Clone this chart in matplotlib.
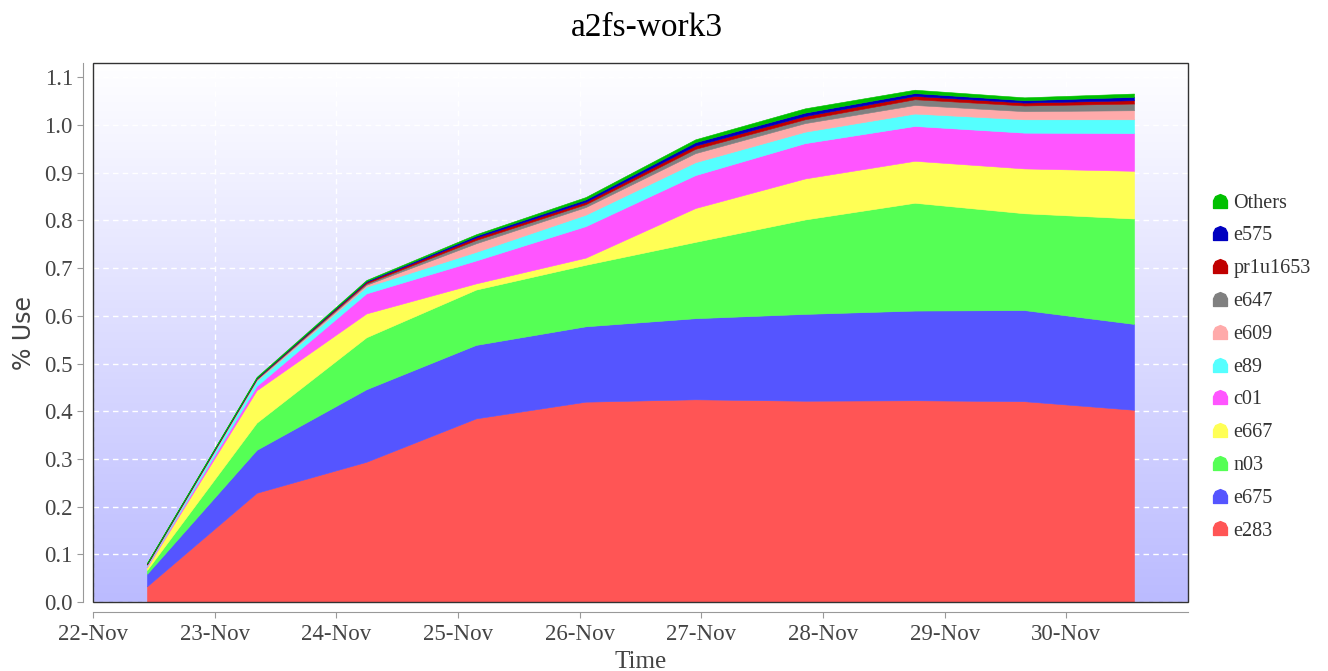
import numpy as np
import pandas as pd
import matplotlib
matplotlib.use("Agg")
import matplotlib.pyplot as plt
import matplotlib.dates as mdates
from matplotlib.path import Path

times = pd.to_datetime([
    "2012-11-22 10:39", "2012-11-23 08:17", "2012-11-24 05:55", "2012-11-25 03:33",
    "2012-11-26 01:11", "2012-11-26 22:49", "2012-11-27 20:27", "2012-11-28 18:05",
    "2012-11-29 15:43", "2012-11-30 13:21",
])

names = ["e283", "e675", "n03", "e667", "c01", "e89", "e609", "e647", "pr1u1653", "e575", "Others"]

e283 = [0.033, 0.229, 0.294, 0.385, 0.420, 0.425, 0.422, 0.423, 0.421, 0.403]
e675 = [0.026, 0.090, 0.152, 0.154, 0.158, 0.170, 0.182, 0.188, 0.191, 0.180]
n03 = [0.008, 0.057, 0.109, 0.116, 0.129, 0.160, 0.198, 0.226, 0.203, 0.221]
e667 = [0.006, 0.068, 0.050, 0.013, 0.015, 0.071, 0.086, 0.088, 0.094, 0.100]
c01 = [0.002, 0.009, 0.042, 0.048, 0.066, 0.069, 0.074, 0.073, 0.075, 0.079]
e89 = [0.002, 0.011, 0.014, 0.018, 0.024, 0.027, 0.024, 0.026, 0.028, 0.029]
e609 = [0.001, 0.002, 0.004, 0.018, 0.016, 0.019, 0.018, 0.018, 0.017, 0.019]
e647 = [0.001, 0.002, 0.003, 0.007, 0.006, 0.009, 0.008, 0.012, 0.012, 0.014]
pr1u1653 = [0.001, 0.001, 0.003, 0.005, 0.005, 0.007, 0.007, 0.007, 0.006, 0.007]
e575 = [0.001, 0.001, 0.002, 0.004, 0.005, 0.007, 0.007, 0.006, 0.005, 0.007]
others = [0.001, 0.002, 0.002, 0.003, 0.005, 0.006, 0.009, 0.007, 0.006, 0.007]

series = [e283, e675, n03, e667, c01, e89, e609, e647, pr1u1653, e575, others]
colors = ["#FF5555", "#5555FF", "#55FF55", "#FFFF55", "#FF55FF", "#55FFFF",
          "#FFAAAA", "#808080", "#C00000", "#0000C0", "#00C000"]

day_ticks = pd.date_range("2012-11-22", "2012-11-30", freq="D")

plt.rcParams["font.family"] = ["Liberation Serif", "DejaVu Serif"]

fig = plt.figure(figsize=(13.28, 6.71), dpi=100)
ax = fig.add_axes([0.070, 0.1028, 0.8246, 0.8033])

# background gradient, white at top to pale blue at bottom
grad = np.linspace(0, 1, 256).reshape(-1, 1)
top = np.array([1.0, 1.0, 1.0])
bot = np.array([0xBB, 0xBB, 0xFF]) / 255
img = top * (1 - grad[..., None]) + bot * grad[..., None]
img = img.reshape(256, 1, 3)
ax.imshow(img, extent=[0, 1, 0, 1], transform=ax.transAxes, aspect="auto", zorder=0)

ax.stackplot(times, *series, colors=colors, labels=names, zorder=2,
             edgecolor="face", linewidth=0.4)

ax.set_xlim(pd.Timestamp("2012-11-22"), pd.Timestamp("2012-12-01"))
ax.set_ylim(0, 1.13)
ax.set_xticks(day_ticks)
ax.xaxis.set_major_formatter(mdates.DateFormatter("%d-%b"))
ax.set_yticks(np.arange(0, 1.11, 0.1))
ax.yaxis.set_major_formatter(plt.FuncFormatter(lambda v, p: f"{v:.1f}"))

ax.grid(True, color="white", linestyle=(0, (4, 3)), linewidth=1.0, zorder=1)
ax.set_axisbelow(True)

# offset axes lines plus a dark frame around the plot area
for s in ["top", "right"]:
    ax.spines[s].set_visible(False)
for s in ["left", "bottom"]:
    ax.spines[s].set_position(("outward", 7))
    ax.spines[s].set_color("#999999")
frame = plt.Rectangle((0, 0), 1, 1, transform=ax.transAxes, fill=False,
                      edgecolor="#333333", linewidth=1.0, zorder=5, clip_on=False)
ax.add_patch(frame)

ax.tick_params(axis="both", colors="#999999", length=4, labelsize=16.5,
               labelcolor="#444444")
ax.tick_params(axis="x", pad=5)

ax.set_xlabel("Time", fontsize=18, color="#444444", labelpad=4)
ax.set_ylabel("% Use", fontsize=17, color="#444444", family="DejaVu Sans", labelpad=6)
fig.suptitle("a2fs-work3", fontsize=24, x=0.487, y=0.982)

# legend marker: box with rounded top
house = Path([(-1, -1), (1, -1), (1, 0.1), (0.7, 0.7), (0, 1), (-0.7, 0.7), (-1, 0.1), (-1, -1)],
             [Path.MOVETO] + [Path.LINETO] * 6 + [Path.CLOSEPOLY])
handles = [plt.Line2D([], [], linestyle="none", marker=house, markersize=10,
                      markerfacecolor=c, markeredgecolor=c) for c in colors]
leg = ax.legend(handles[::-1], names[::-1], loc="center left", bbox_to_anchor=(1.014, 0.436),
                frameon=False, fontsize=14.5, handlelength=0.9, handletextpad=0.2,
                labelspacing=0.68, borderaxespad=0)
for t in leg.get_texts():
    t.set_color("#333333")

fig.savefig("out.png", dpi=100)
